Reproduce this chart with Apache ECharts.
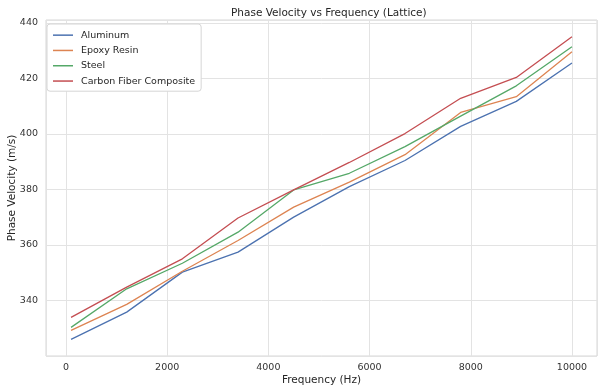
<!DOCTYPE html>
<html>
<head>
<meta charset="utf-8">
<script src="https://cdn.jsdelivr.net/npm/echarts@6/dist/echarts.min.js"></script>
<style>
html,body{margin:0;padding:0;background:#fff;}
#c{width:600px;height:389px;}
</style>
</head>
<body>
<div id="c"></div>
<script>
const frequency = [100, 1200, 2300, 3400, 4500, 5600, 6700, 7800, 8900, 10000];
const aluminum = [326.0, 335.8, 350.2, 357.4, 370.0, 381.0, 390.4, 402.7, 411.7, 425.5];
const epoxyResin = [329.2, 338.6, 350.5, 361.6, 373.6, 382.6, 392.5, 407.7, 413.4, 429.6];
const steel = [330.3, 344.2, 353.4, 364.6, 379.8, 385.8, 395.4, 406.4, 417.3, 431.4];
const carbonFiber = [333.9, 344.8, 355.0, 369.7, 379.8, 389.7, 400.1, 412.8, 420.3, 435.0];
const seriesNames = ['Aluminum', 'Epoxy Resin', 'Steel', 'Carbon Fiber Composite'];
const colors = ['#4c72b0', '#dd8452', '#55a868', '#c44e52'];
const allSeries = [aluminum, epoxyResin, steel, carbonFiber];

const chart = echarts.init(document.getElementById('c'), null, {renderer: 'canvas'});
const font = 'DejaVu Sans';
chart.setOption({
  animation: false,
  backgroundColor: '#fff',
  title: {
    text: 'Phase Velocity vs Frequency (Lattice)',
    left: 226, top: 3,
    textStyle: {fontFamily: font, fontSize: 10.5, fontWeight: 'normal', color: '#262626'}
  },
  grid: {left: 46, right: 3, top: 20, bottom: 33, containLabel: false, outerBoundsMode: 'none',
         show: true, borderColor: '#d6d6d6', borderWidth: 1},
  legend: {
    orient: 'vertical', left: 47, top: 24,
    data: seriesNames,
    icon: 'path://M0,0 L20,0 L20,1.5 L0,1.5 Z',
    itemWidth: 20, itemHeight: 1.5, itemGap: 5,
    padding: [6, 6, 5, 6],
    backgroundColor: '#fff', borderColor: '#d6d6d6', borderWidth: 1, borderRadius: 3,
    textStyle: {fontFamily: font, fontSize: 9.5, color: '#262626', lineHeight: 10.3, padding: [0, 0, 0, 3]}
  },
  xAxis: {
    type: 'value', min: -395, max: 10495, splitNumber: 5,
    name: 'Frequency (Hz)', nameLocation: 'middle', nameGap: 19, nameMoveOverlap: false,
    nameTextStyle: {fontFamily: font, fontSize: 10.5, color: '#262626'},
    axisLine: {show: false}, axisTick: {show: false},
    axisLabel: {fontFamily: font, fontSize: 9.5, color: '#333', margin: 7, showMinLabel: false, showMaxLabel: false,
                formatter: v => String(Math.round(v))},
    splitLine: {show: true, lineStyle: {color: '#e3e3e3', width: 1}}
  },
  yAxis: {
    type: 'value', min: 320, max: 441, splitNumber: 6,
    name: 'Phase Velocity (m/s)', nameLocation: 'middle', nameGap: 28, nameMoveOverlap: false,
    nameTextStyle: {fontFamily: font, fontSize: 10.5, color: '#262626'},
    axisLine: {show: false}, axisTick: {show: false},
    axisLabel: {fontFamily: font, fontSize: 9.5, color: '#333', margin: 8, showMinLabel: false, showMaxLabel: false},
    splitLine: {show: true, lineStyle: {color: '#e3e3e3', width: 1}}
  },
  series: allSeries.map((vals, i) => ({
    name: seriesNames[i], type: 'line', symbol: 'none',
    data: frequency.map((f, j) => [f, vals[j]]),
    lineStyle: {color: colors[i], width: 1.3},
    itemStyle: {color: colors[i]}
  }))
});
</script>
</body>
</html>
